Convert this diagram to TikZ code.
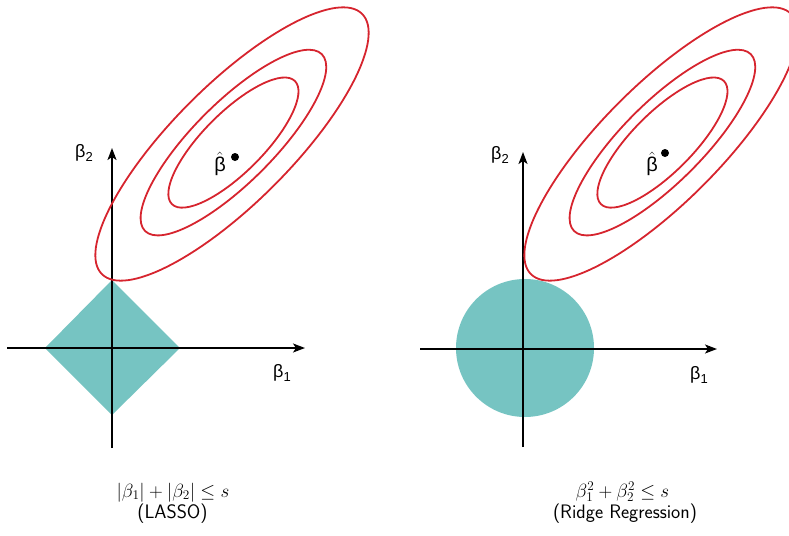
\documentclass[tikz,border=0pt]{standalone}
\usepackage{graphicx}
\usepackage{fontspec}
\usetikzlibrary{arrows.meta}
\newfontfamily\axfont{Liberation Sans}
\definecolor{regfill}{RGB}{118,196,194}
\definecolor{ellred}{RGB}{214,36,46}
\begin{document}
\begin{tikzpicture}[x=1pt,y=1pt,
  axis/.style={line width=1.8pt, -{Stealth[length=12pt,width=9pt,inset=3pt]}},
  contour/.style={draw=ellred, line width=1.8pt},
  region/.style={fill=regfill, draw=none},
  axlabel/.style={font=\axfont\fontsize{18}{18}\selectfont, inner sep=0pt},
  hatlabel/.style={font=\axfont\fontsize{20}{20}\selectfont, inner sep=0pt},
  mathcap/.style={font=\fontsize{20.74}{22}\selectfont, inner sep=0pt, anchor=base},
  textcap/.style={font=\sffamily\fontsize{19.5}{21}\selectfont, inner sep=0pt, anchor=base},
  dot/.style={fill=black}]
\useasboundingbox (0,0) rectangle (789,-535);
\clip (0,0) rectangle (789,-535);
\newcommand{\bsub}[1]{β\raisebox{-3.5pt}{\fontsize{13}{13}\selectfont #1}}
% ---------- left panel (LASSO) ----------
\coordinate (O1) at (112,-348);
\fill[region] (112,-280) -- (180,-348) -- (112,-415) -- (45,-348) -- cycle;
\coordinate (xs1) at (7,-348);
\coordinate (xe1) at (305,-348);
\coordinate (ys1) at (112,-448);
\coordinate (ye1) at (112,-148);
\draw[axis] (xs1) -- (xe1);
\draw[axis] (ys1) -- (ye1);
\begin{scope}[shift={(232,-144)}, rotate=45]
  \draw[contour] (0,0) ellipse [x radius=184, y radius=59];
  \draw[contour] (2,0) ellipse [x radius=125, y radius=40];
  \draw[contour] (2,0) ellipse [x radius=87, y radius=30];
\end{scope}
\fill[dot] (235,-157) circle [radius=4];
\node[hatlabel] (bh1) at (220,-164) {$\hat{\mbox{β}}$};
\node[axlabel] (b21) at (84,-153) {\bsub{2}};
\node[axlabel] (b11) at (282,-373) {\bsub{1}};
\node[mathcap] (f1) at (173,-497) {\scalebox{0.92}{$|\beta_1|+|\beta_2|\leq s$}};
\node[textcap] (t1) at (172.5,-518) {(LASSO)};
% ---------- right panel (Ridge) ----------
\coordinate (O2) at (523,-349);
\fill[region] (525,-348) circle [radius=69];
\coordinate (xs2) at (420,-349);
\coordinate (xe2) at (717,-349);
\coordinate (ys2) at (523,-447);
\coordinate (ye2) at (523,-152);
\draw[axis] (xs2) -- (xe2);
\draw[axis] (ys2) -- (ye2);
\begin{scope}[shift={(661,-144)}, rotate=45]
  \draw[contour] (0,0) ellipse [x radius=184, y radius=59];
  \draw[contour] (2,0) ellipse [x radius=125, y radius=40];
  \draw[contour] (2,0) ellipse [x radius=87, y radius=30];
\end{scope}
\fill[dot] (665,-153) circle [radius=4];
\node[hatlabel] (bh2) at (652,-164) {$\hat{\mbox{β}}$};
\node[axlabel] (b22) at (500,-155) {\bsub{2}};
\node[axlabel] (b12) at (699,-375) {\bsub{1}};
\node[mathcap] (f2) at (622.5,-497) {\scalebox{0.92}{$\beta_1^2+\beta_2^2\leq s$}};
\node[textcap] (t2) at (625,-518) {(Ridge Regression)};
\end{tikzpicture}
\end{document}
